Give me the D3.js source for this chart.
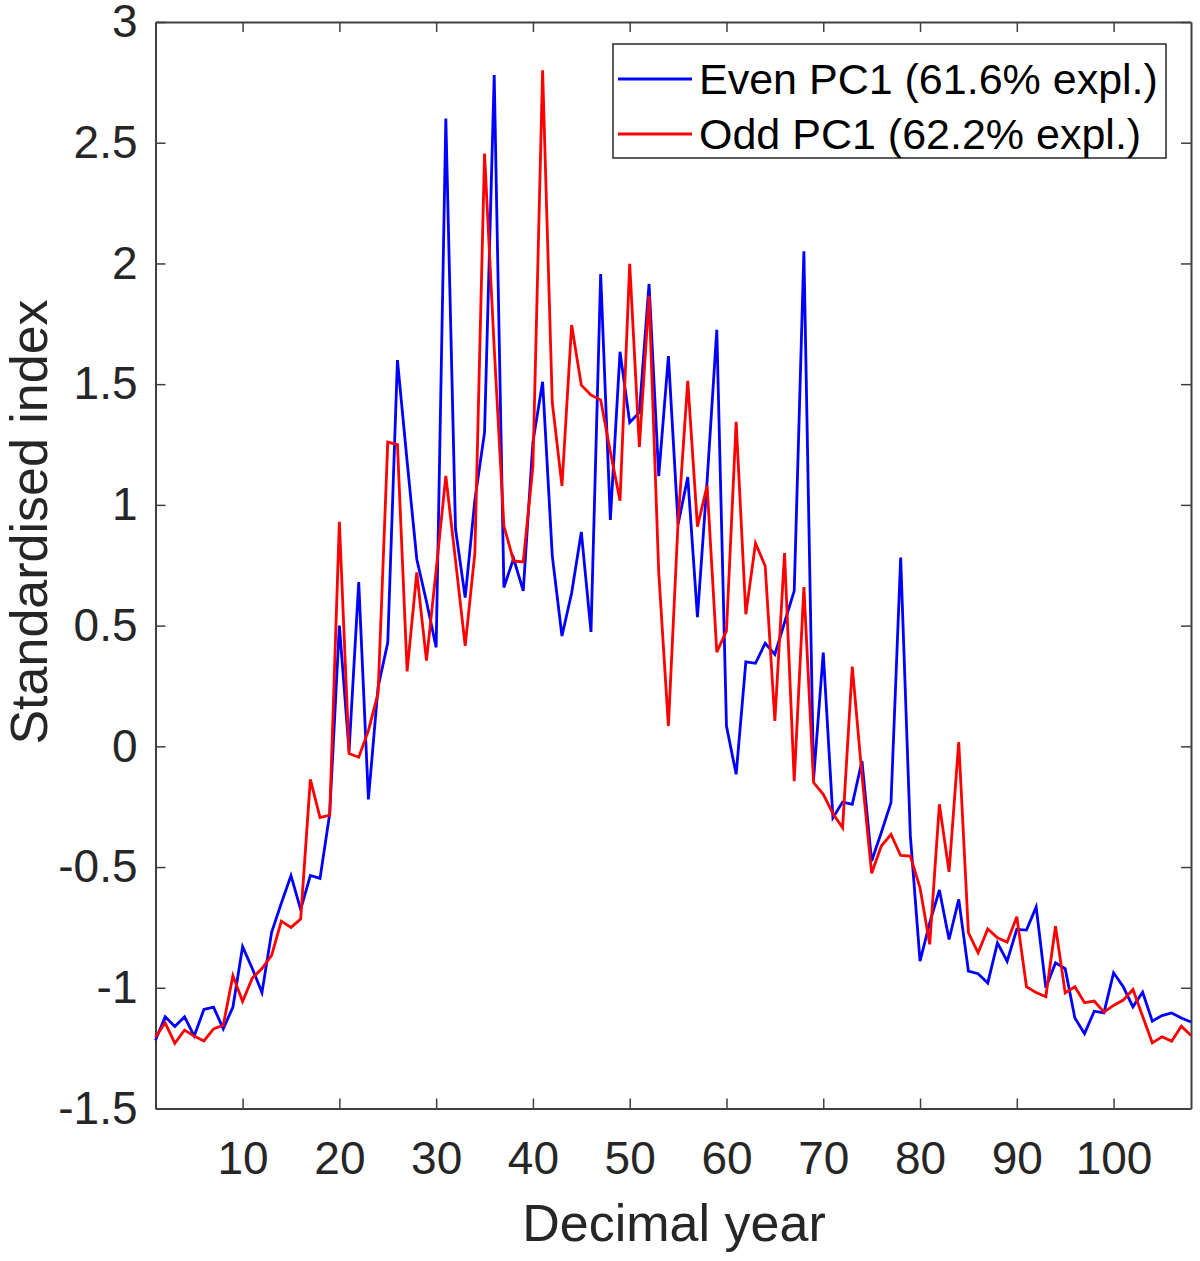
<!DOCTYPE html>
<html>
<head>
    <meta charset="utf-8">
    <title>Even / Odd PC1</title>
    <style>
        body { margin: 0; background: #fff; }
        text { font-family: "Liberation Sans", Arial, sans-serif; fill: #262626; }
    </style>
</head>
<body>
<script src="https://d3js.org/d3.v7.min.js"></script>
<script>

// decimal year index 1..108
var years = d3.range(1, 109);

var evenPC1 = [
  -1.217, -1.12, -1.16, -1.12, -1.20, -1.09, -1.08, -1.17, -1.08, -0.83,
  -0.92, -1.02, -0.77, -0.65, -0.535, -0.675, -0.535, -0.547, -0.28, 0.50,
  -0.02, 0.68, -0.22, 0.245, 0.43, 1.60, 1.18, 0.775, 0.60, 0.41,
  2.60, 0.90, 0.616, 1.02, 1.30, 2.78, 0.658, 0.778, 0.644, 1.26,
  1.51, 0.789, 0.457, 0.635, 0.888, 0.474, 1.956, 0.938, 1.634, 1.341,
  1.383, 1.915, 1.119, 1.616, 0.92, 1.115, 0.535, 1.10, 1.725, 0.084,
  -0.116, 0.35, 0.344, 0.427, 0.381, 0.513, 0.644, 2.05, -0.137, 0.388,
  -0.296, -0.231, -0.24, -0.061, -0.475, -0.357, -0.233, 0.782, -0.37, -0.89,
  -0.731, -0.595, -0.80, -0.634, -0.931, -0.942, -0.98, -0.814, -0.89, -0.758,
  -0.761, -0.665, -1.0, -0.897, -0.921, -1.125, -1.19, -1.097, -1.104, -0.938,
  -0.996, -1.079, -1.018, -1.138, -1.115, -1.104, -1.125, -1.142
];

var oddPC1 = [
  -1.205, -1.145, -1.23, -1.175, -1.20, -1.22, -1.17, -1.155, -0.95, -1.057,
  -0.96, -0.92, -0.866, -0.724, -0.75, -0.715, -0.137, -0.295, -0.285, 0.93,
  -0.03, -0.045, 0.065, 0.22, 1.26, 1.25, 0.31, 0.72, 0.355, 0.73,
  1.12, 0.77, 0.416, 0.80, 2.455, 1.65, 0.913, 0.768, 0.764, 1.16,
  2.80, 1.424, 1.079, 1.745, 1.496, 1.455, 1.435, 1.22, 1.017, 1.998,
  1.24, 1.866, 0.72, 0.084, 0.93, 1.514, 0.91, 1.08, 0.39, 0.478,
  1.344, 0.547, 0.841, 0.747, 0.105, 0.80, -0.144, 0.66, -0.15, -0.199,
  -0.278, -0.337, 0.33, -0.12, -0.526, -0.413, -0.365, -0.452, -0.455, -0.586,
  -0.82, -0.24, -0.52, 0.018, -0.772, -0.855, -0.756, -0.793, -0.811, -0.706,
  -0.996, -1.02, -1.037, -0.745, -1.021, -0.996, -1.062, -1.055, -1.101, -1.073,
  -1.051, -1.007, -1.118, -1.228, -1.203, -1.221, -1.159, -1.198
];

var xTicks = [10, 20, 30, 40, 50, 60, 70, 80, 90, 100];
var yTicks = [-1.5, -1, -0.5, 0, 0.5, 1, 1.5, 2, 2.5, 3];
var seriesNames = ["Even PC1 (61.6% expl.)", "Odd PC1 (62.2% expl.)"];
var seriesColors = ["#0000ff", "#ff0000"];

var W = 1200, H = 1261;
var plotL = 155.5, plotR = 1191, plotT = 22, plotB = 1108.5;

var svg = d3.select("body")
    .append("svg")
    .attr("width", W)
    .attr("height", H);

var x = d3.scaleLinear().domain([1, 108]).range([plotL, plotR]);
var y = d3.scaleLinear().domain([-1.5, 3]).range([plotB, plotT]);

function styleAxis(g){
    g.selectAll("path.domain").attr("stroke", "#404040").attr("stroke-width", 2);
    g.selectAll(".tick line").attr("stroke", "#404040").attr("stroke-width", 1.5);
    g.selectAll("text")
        .style("font-family", '"Liberation Sans", Arial, sans-serif')
        .style("font-size", "46px")
        .attr("fill", "#262626");
}

// bottom + top
svg.append("g")
    .attr("transform", "translate(0," + plotB + ")")
    .call(d3.axisBottom(x).tickValues(xTicks).tickSizeInner(-10).tickSizeOuter(0).tickPadding(33))
    .call(styleAxis);
svg.append("g")
    .attr("transform", "translate(0," + plotT + ")")
    .call(d3.axisTop(x).tickValues(xTicks).tickSizeInner(-10).tickSizeOuter(0).tickFormat(""))
    .call(styleAxis);

// left + right (plain hyphen for negatives, like the original)
svg.append("g")
    .attr("transform", "translate(" + plotL + ",0)")
    .call(d3.axisLeft(y).tickValues(yTicks).tickSizeInner(-10).tickSizeOuter(0).tickPadding(18)
        .tickFormat(function(d){ return String(d); }))
    .call(styleAxis);
svg.append("g")
    .attr("transform", "translate(" + plotR + ",0)")
    .call(d3.axisRight(y).tickValues(yTicks).tickSizeInner(-10).tickSizeOuter(0).tickFormat(""))
    .call(styleAxis);

// lines
var line = d3.line()
    .x(function(d, i){ return x(years[i]); })
    .y(function(d){ return y(d); });

[evenPC1, oddPC1].forEach(function(s, k){
    svg.append("path")
        .datum(s)
        .attr("d", line)
        .attr("fill", "none")
        .attr("stroke", seriesColors[k])
        .attr("stroke-width", 2.8)
        .attr("stroke-linejoin", "miter");
});

// axis labels
svg.append("text")
    .attr("x", 674)
    .attr("y", 1241)
    .attr("text-anchor", "middle")
    .style("font-size", "52px")
    .text("Decimal year");

svg.append("text")
    .attr("transform", "translate(47,522) rotate(-90)")
    .attr("text-anchor", "middle")
    .style("font-size", "52px")
    .text("Standardised index");

// legend
var lg = svg.append("g");
lg.append("rect")
    .attr("x", 613).attr("y", 44)
    .attr("width", 553).attr("height", 114)
    .attr("fill", "#fff")
    .attr("stroke", "#262626")
    .attr("stroke-width", 1.5);

seriesNames.forEach(function(name, k){
    var cy = 79 + k * 55;
    lg.append("line")
        .attr("x1", 618).attr("x2", 692)
        .attr("y1", cy).attr("y2", cy)
        .attr("stroke", seriesColors[k])
        .attr("stroke-width", 2.8);
    lg.append("text")
        .attr("x", 699)
        .attr("y", cy + 15)
        .style("font-size", "43px")
        .style("fill", "#000")
        .text(name);
});

</script>
</body>
</html>
